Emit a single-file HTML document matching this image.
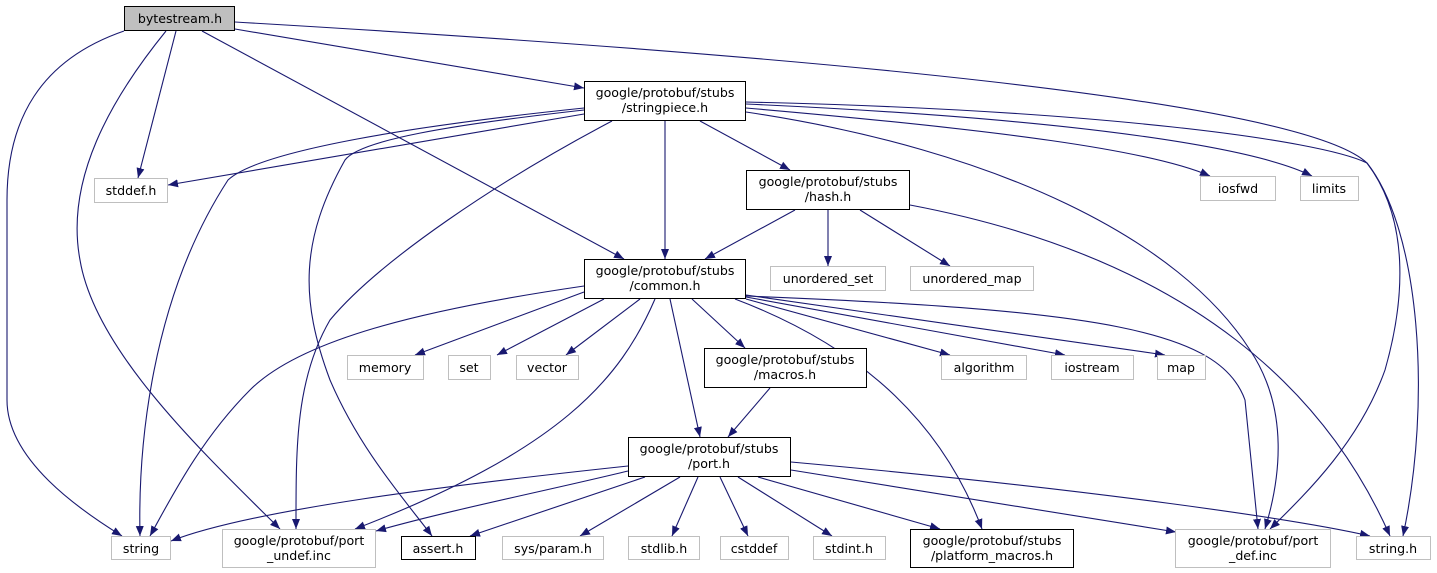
<!DOCTYPE html>
<html><head><meta charset="utf-8"><style>
html,body{margin:0;padding:0;background:#fff;}
svg{display:block;}
text{font-family:"DejaVu Sans","Liberation Sans",sans-serif;font-size:12.6px;fill:#000;}
</style></head><body>
<svg width="1437" height="573" viewBox="0 0 1437 573" xmlns="http://www.w3.org/2000/svg">
<defs>
<marker id="a" viewBox="0 0 10 10" refX="10" refY="5" markerWidth="10" markerHeight="10" markerUnits="userSpaceOnUse" orient="auto">
<path d="M0,1 L10,5 L0,9 Z" fill="#191970"/>
</marker>
</defs>
<g fill="none" stroke="#191970" stroke-width="1.1" marker-end="url(#a)">
<!-- bytestream -->
<path d="M124,31 C40,60 7,120 7,200 L7,400 C7,460 80,510 122,536"/>
<path d="M166,31 C110,100 65,180 80,260 C95,350 200,450 280,529"/>
<path d="M176,31 L138,178"/>
<path d="M202,31 L624,259"/>
<path d="M235,29 L584,88"/>
<path d="M235,22 C800,55 1300,100 1367,163 C1410,220 1405,300 1385,370 C1360,440 1310,490 1270,529"/>
<!-- stringpiece -->
<path d="M584,114 L168,185"/>
<path d="M584,108 C420,125 260,150 228,180 C150,300 138,450 140,536"/>
<path d="M584,110 C450,125 360,140 345,160 C300,240 300,300 330,380 C360,450 405,500 432,536"/>
<path d="M612,121 C500,180 380,260 330,320 C295,380 296,450 296,529"/>
<path d="M665,121 L665,259"/>
<path d="M700,121 L790,170"/>
<path d="M746,108 C1000,130 1150,150 1210,176"/>
<path d="M746,104 C1100,120 1260,150 1312,176"/>
<path d="M746,102 C1100,110 1320,140 1367,163 C1420,230 1432,400 1403,536"/>
<path d="M746,112 C1000,150 1180,240 1250,350 C1290,410 1280,480 1265,529"/>
<!-- hash -->
<path d="M795,210 L705,259"/>
<path d="M828,210 L828,266"/>
<path d="M860,210 L950,266"/>
<path d="M910,205 C1200,260 1330,400 1390,536"/>
<!-- common -->
<path d="M584,286 C420,310 300,340 250,390 C200,440 170,500 150,536"/>
<path d="M584,292 L415,355"/>
<path d="M604,299 L497,355"/>
<path d="M640,299 L566,355"/>
<path d="M655,299 C620,380 560,450 355,529"/>
<path d="M670,299 L700,437"/>
<path d="M692,299 L745,348"/>
<path d="M735,299 C870,350 945,430 982,529"/>
<path d="M746,299 L950,355"/>
<path d="M746,297 L1065,355"/>
<path d="M746,295 L1165,355"/>
<path d="M746,296 C1100,310 1220,330 1245,400 L1258,529"/>
<!-- macros -->
<path d="M770,388 L728,437"/>
<!-- port -->
<path d="M628,466 C450,485 250,510 171,541"/>
<path d="M628,471 C550,490 450,510 376,531"/>
<path d="M645,477 L470,536"/>
<path d="M680,477 L580,536"/>
<path d="M698,477 L672,536"/>
<path d="M720,477 L748,536"/>
<path d="M738,477 L832,536"/>
<path d="M758,477 L940,529"/>
<path d="M791,470 L1176,532"/>
<path d="M791,462 C1100,490 1300,520 1370,536"/>
</g>
<g stroke-width="1" text-anchor="middle">
<rect x="124.5" y="6.5" width="110" height="24" fill="#bfbfbf" stroke="#000"/><text x="180" y="23">bytestream.h</text>
<rect x="584.5" y="81.5" width="161" height="39" fill="#fff" stroke="#000"/><text x="665" y="97">google/protobuf/stubs</text><text x="665" y="112">/stringpiece.h</text>
<rect x="94.5" y="178.5" width="73" height="24" fill="#fff" stroke="#bfbfbf"/><text x="131" y="195">stddef.h</text>
<rect x="746.5" y="170.5" width="163" height="39" fill="#fff" stroke="#000"/><text x="828" y="186">google/protobuf/stubs</text><text x="828" y="201">/hash.h</text>
<rect x="1200.5" y="176.5" width="75" height="24" fill="#fff" stroke="#bfbfbf"/><text x="1238" y="193">iosfwd</text>
<rect x="1300.5" y="176.5" width="58" height="24" fill="#fff" stroke="#bfbfbf"/><text x="1329" y="193">limits</text>
<rect x="584.5" y="259.5" width="161" height="39" fill="#fff" stroke="#000"/><text x="665" y="275">google/protobuf/stubs</text><text x="665" y="290">/common.h</text>
<rect x="770.5" y="266.5" width="115" height="24" fill="#fff" stroke="#bfbfbf"/><text x="828" y="283">unordered_set</text>
<rect x="910.5" y="266.5" width="123" height="24" fill="#fff" stroke="#bfbfbf"/><text x="972" y="283">unordered_map</text>
<rect x="347.5" y="355.5" width="76" height="24" fill="#fff" stroke="#bfbfbf"/><text x="385" y="372">memory</text>
<rect x="448.5" y="355.5" width="42" height="24" fill="#fff" stroke="#bfbfbf"/><text x="469" y="372">set</text>
<rect x="516.5" y="355.5" width="62" height="24" fill="#fff" stroke="#bfbfbf"/><text x="547" y="372">vector</text>
<rect x="704.5" y="348.5" width="162" height="39" fill="#fff" stroke="#000"/><text x="785" y="364">google/protobuf/stubs</text><text x="785" y="379">/macros.h</text>
<rect x="941.5" y="355.5" width="85" height="24" fill="#fff" stroke="#bfbfbf"/><text x="984" y="372">algorithm</text>
<rect x="1051.5" y="355.5" width="82" height="24" fill="#fff" stroke="#bfbfbf"/><text x="1092" y="372">iostream</text>
<rect x="1157.5" y="355.5" width="48" height="24" fill="#fff" stroke="#bfbfbf"/><text x="1181" y="372">map</text>
<rect x="628.5" y="437.5" width="162" height="39" fill="#fff" stroke="#000"/><text x="709" y="453">google/protobuf/stubs</text><text x="709" y="468">/port.h</text>
<rect x="111.5" y="536.5" width="59" height="23" fill="#fff" stroke="#bfbfbf"/><text x="141" y="553">string</text>
<rect x="222.5" y="529.5" width="153" height="38" fill="#fff" stroke="#bfbfbf"/><text x="299" y="545">google/protobuf/port</text><text x="299" y="560">_undef.inc</text>
<rect x="401.5" y="536.5" width="74" height="23" fill="#fff" stroke="#000"/><text x="438" y="553">assert.h</text>
<rect x="502.5" y="536.5" width="101" height="23" fill="#fff" stroke="#bfbfbf"/><text x="553" y="553">sys/param.h</text>
<rect x="628.5" y="536.5" width="71" height="23" fill="#fff" stroke="#bfbfbf"/><text x="664" y="553">stdlib.h</text>
<rect x="720.5" y="536.5" width="68" height="23" fill="#fff" stroke="#bfbfbf"/><text x="754" y="553">cstddef</text>
<rect x="813.5" y="536.5" width="72" height="23" fill="#fff" stroke="#bfbfbf"/><text x="849" y="553">stdint.h</text>
<rect x="910.5" y="529.5" width="163" height="38" fill="#fff" stroke="#000"/><text x="992" y="545">google/protobuf/stubs</text><text x="992" y="560">/platform_macros.h</text>
<rect x="1175.5" y="529.5" width="155" height="38" fill="#fff" stroke="#bfbfbf"/><text x="1253" y="545">google/protobuf/port</text><text x="1253" y="560">_def.inc</text>
<rect x="1356.5" y="536.5" width="74" height="23" fill="#fff" stroke="#bfbfbf"/><text x="1393" y="553">string.h</text>
</g>
</svg>
</body></html>
